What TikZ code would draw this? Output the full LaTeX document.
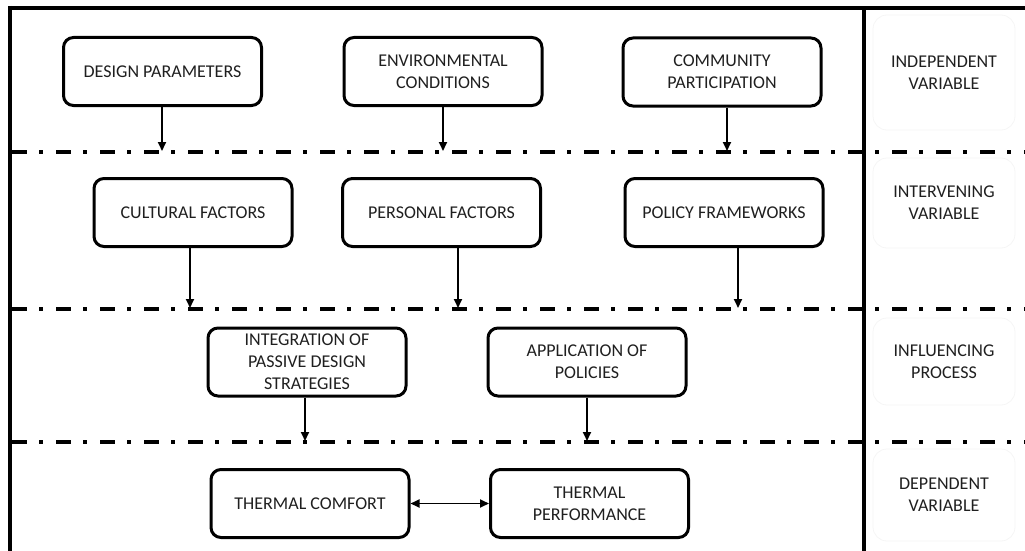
\documentclass[tikz,border=0pt]{standalone}
\usepackage{fontspec}
\setmainfont{Carlito}
\usetikzlibrary{arrows.meta}
\tikzset{
  box/.style={draw=black, line width=3pt, rounded corners=10pt, minimum width=198pt, minimum height=68pt, align=center, text=black!88, font=\fontsize{18}{22}\selectfont, inner sep=2pt},
  lab/.style={draw=black!4, line width=0.8pt, rounded corners=14pt, minimum width=142pt, align=center, text=black!88, font=\fontsize{18}{22}\selectfont},
  sep/.style={line width=4pt, dash pattern=on 15pt off 12pt on 4pt off 13pt},
  frame/.style={line width=4pt},
  arr/.style={line width=1.8pt, -{Triangle[length=9pt,width=8pt]}},
  darr/.style={line width=1.8pt, {Triangle[length=9pt,width=8pt]}-{Triangle[length=9pt,width=8pt]}}
}
\begin{document}
\begin{tikzpicture}[x=1pt,y=-1pt]
\useasboundingbox (0,0) rectangle (1025,551);
% frame
\coordinate (tl) at (10,8);
\coordinate (tr) at (1025,8);
\coordinate (bl) at (10,551);
\coordinate (vt) at (864,8);
\coordinate (vb) at (864,551);
\draw[frame] (8,8) -- (tr);
\draw[frame] (10,6) -- (bl);
\draw[line width=3.5pt] (vt) -- (vb);
% separators
\foreach \yy/\nm in {152/s1,309/s2,442/s3}{
  \coordinate (\nm l) at (12,\yy);
  \coordinate (\nm r) at (1025,\yy);
  \draw[sep] (\nm l) -- (\nm r);
}
% row 1
\node[box] (dp) at (162.5,71.5) {DESIGN PARAMETERS};
\node[box] (ec) at (443,71.5) {ENVIRONMENTAL\\CONDITIONS};
\node[box] (cp) at (722,72) {COMMUNITY\\PARTICIPATION};
% row 2
\node[box] (cf) at (193,212.5) {CULTURAL FACTORS};
\node[box] (pf) at (441.5,212.5) {PERSONAL FACTORS};
\node[box] (pol) at (724,212.5) {POLICY FRAMEWORKS};
% row 3
\node[box] (int) at (307,362) {INTEGRATION OF\\PASSIVE DESIGN\\STRATEGIES};
\node[box] (app) at (587,362) {APPLICATION OF\\POLICIES};
% row 4
\node[box] (tc) at (310,503.5) {THERMAL COMFORT};
\node[box] (tp) at (589.5,503.5) {THERMAL\\PERFORMANCE};
% right labels
\node[lab, minimum height=115pt] (l1) at (944,72.5) {INDEPENDENT\\VARIABLE};
\node[lab, minimum height=90pt] (l2) at (944,203) {INTERVENING\\VARIABLE};
\node[lab, minimum height=87pt] (l3) at (944,361.5) {INFLUENCING\\PROCESS};
\node[lab, minimum height=92pt] (l4) at (944,495) {DEPENDENT\\VARIABLE};
% arrow end coordinates
\coordinate (a1) at (162,151);
\coordinate (a2) at (443,151);
\coordinate (a3) at (727,151);
\coordinate (b1) at (190,308);
\coordinate (b2) at (458,308);
\coordinate (b3) at (738,308);
\coordinate (c1) at (305,441);
\coordinate (c2) at (587,441);
\draw[arr] (dp.south -| a1) -- (a1);
\draw[arr] (ec.south -| a2) -- (a2);
\draw[arr] (cp.south -| a3) -- (a3);
\draw[arr] (cf.south -| b1) -- (b1);
\draw[arr] (pf.south -| b2) -- (b2);
\draw[arr] (pol.south -| b3) -- (b3);
\draw[arr] (int.south -| c1) -- (c1);
\draw[arr] (app.south -| c2) -- (c2);
\draw[darr] (tc.east) -- (tp.west);
\end{tikzpicture}
\end{document}
